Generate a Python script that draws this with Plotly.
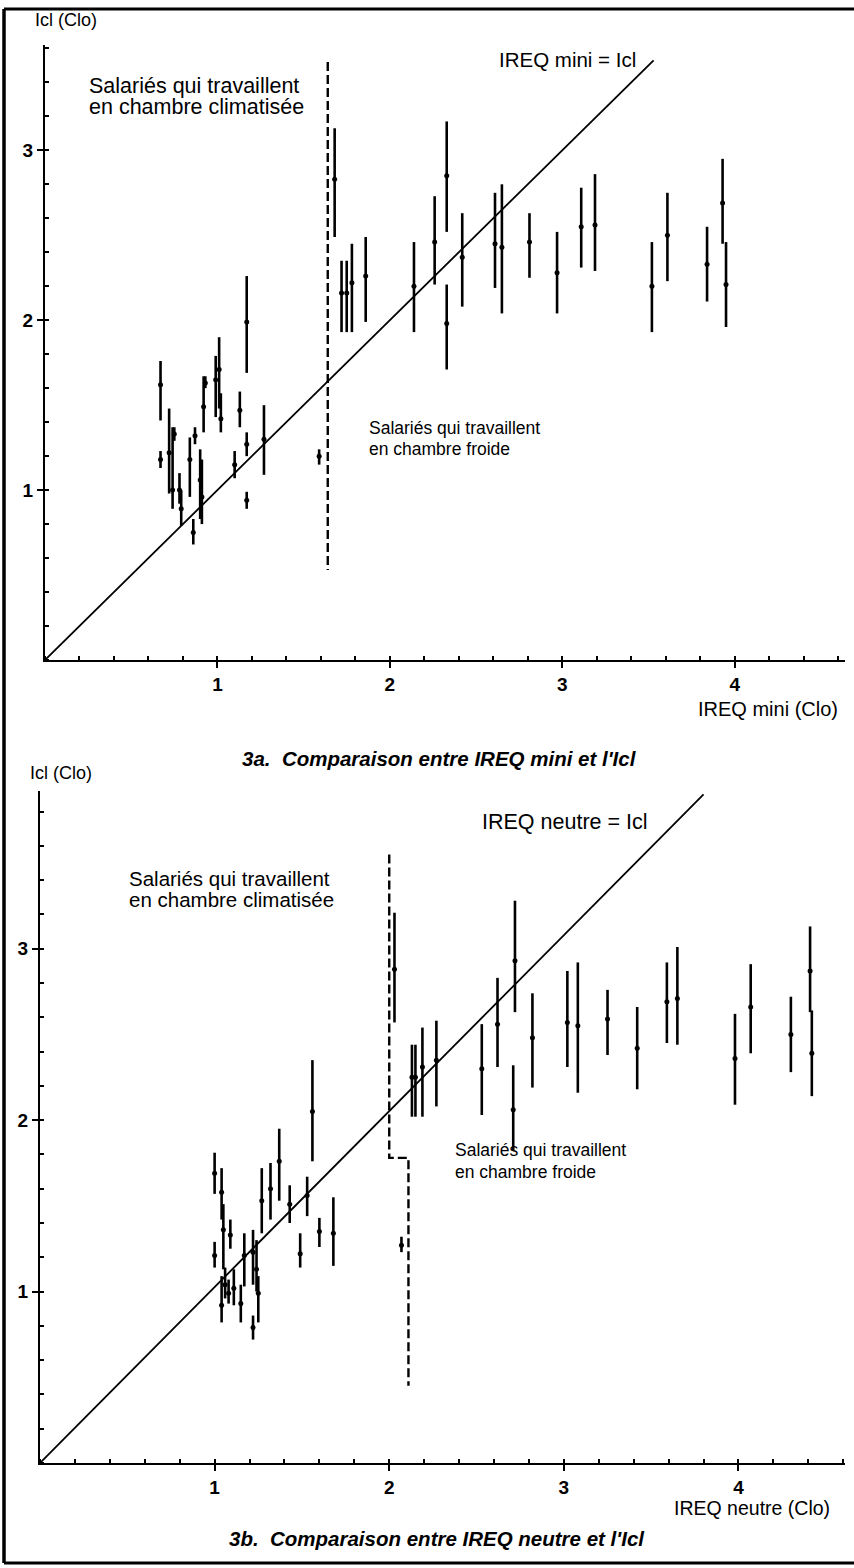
import plotly.graph_objects as go

W, H = 854, 1568

# ---------------- Panel 3a : IREQ mini vs Icl ----------------
top_x = [0.67, 0.67, 0.72, 0.74, 0.75, 0.78, 0.79, 0.84, 0.86, 0.87, 0.90, 0.91,
         0.92, 0.93, 0.99, 1.01, 1.02, 1.10, 1.13, 1.17, 1.17, 1.17, 1.27, 1.59,
         1.68, 1.72, 1.75, 1.78, 1.86, 2.14, 2.26, 2.33, 2.33, 2.42, 2.61, 2.65,
         2.81, 2.97, 3.11, 3.19, 3.52, 3.61, 3.84, 3.93, 3.95]
top_c = [1.62, 1.18, 1.22, 1.00, 1.33, 1.00, 0.89, 1.18, 0.75, 1.32, 1.06, 0.96,
         1.49, 1.63, 1.65, 1.71, 1.42, 1.15, 1.47, 0.94, 1.99, 1.27, 1.30, 1.20,
         2.83, 2.16, 2.16, 2.22, 2.26, 2.20, 2.46, 2.85, 1.98, 2.37, 2.45, 2.43,
         2.46, 2.28, 2.55, 2.56, 2.20, 2.50, 2.33, 2.69, 2.21]
top_lo = [1.41, 1.13, 0.98, 0.89, 1.29, 0.92, 0.79, 0.96, 0.68, 1.27, 0.83, 0.80,
          1.34, 1.60, 1.43, 1.48, 1.34, 1.07, 1.37, 0.89, 1.69, 1.20, 1.09, 1.15,
          2.49, 1.93, 1.93, 1.93, 1.99, 1.93, 2.21, 2.52, 1.71, 2.08, 2.19, 2.04,
          2.25, 2.04, 2.31, 2.29, 1.93, 2.23, 2.11, 2.45, 1.96]
top_hi = [1.76, 1.23, 1.48, 1.37, 1.37, 1.10, 1.00, 1.31, 0.83, 1.37, 1.24, 1.18,
          1.67, 1.67, 1.79, 1.90, 1.57, 1.23, 1.58, 0.99, 2.26, 1.34, 1.50, 1.24,
          3.13, 2.35, 2.35, 2.45, 2.49, 2.46, 2.73, 3.17, 2.21, 2.63, 2.75, 2.80,
          2.63, 2.52, 2.78, 2.86, 2.46, 2.75, 2.55, 2.95, 2.46]
top_line_x = [0, 3.53]
top_line_y = [0, 3.53]
top_div_x = [1.64, 1.64]
top_div_y = [3.52, 0.53]

# ---------------- Panel 3b : IREQ neutre vs Icl ----------------
bot_x = [1.00, 1.00, 1.04, 1.05, 1.04, 1.06, 1.08, 1.09, 1.11, 1.15, 1.17, 1.22,
         1.24, 1.22, 1.25, 1.27, 1.32, 1.37, 1.43, 1.49, 1.53, 1.56, 1.60, 1.68,
         2.07, 2.03, 2.13, 2.15, 2.19, 2.27, 2.53, 2.62, 2.72, 2.71, 2.82, 3.02,
         3.08, 3.25, 3.42, 3.59, 3.65, 3.98, 4.07, 4.30, 4.41, 4.42]
bot_c = [1.69, 1.21, 1.58, 1.36, 0.92, 1.04, 0.99, 1.33, 1.02, 0.93, 1.21, 1.23,
         1.13, 0.79, 0.99, 1.53, 1.60, 1.76, 1.51, 1.22, 1.56, 2.05, 1.35, 1.34,
         1.27, 2.88, 2.25, 2.25, 2.31, 2.35, 2.30, 2.56, 2.93, 2.06, 2.48, 2.57,
         2.55, 2.59, 2.42, 2.69, 2.71, 2.36, 2.66, 2.50, 2.87, 2.39]
bot_lo = [1.57, 1.14, 1.42, 1.13, 0.82, 0.96, 0.93, 1.25, 0.92, 0.82, 1.03, 1.04,
          1.00, 0.72, 0.82, 1.34, 1.42, 1.53, 1.40, 1.14, 1.44, 1.76, 1.26, 1.15,
          1.23, 2.57, 2.02, 2.02, 2.02, 2.08, 2.03, 2.31, 2.63, 1.82, 2.19, 2.31,
          2.16, 2.38, 2.18, 2.45, 2.44, 2.09, 2.39, 2.28, 2.63, 2.14]
bot_hi = [1.81, 1.29, 1.72, 1.51, 1.09, 1.14, 1.07, 1.42, 1.13, 1.04, 1.34, 1.36,
          1.30, 0.86, 1.09, 1.72, 1.75, 1.95, 1.62, 1.34, 1.67, 2.35, 1.43, 1.55,
          1.32, 3.21, 2.44, 2.44, 2.54, 2.58, 2.56, 2.83, 3.28, 2.32, 2.74, 2.87,
          2.92, 2.76, 2.66, 2.92, 3.01, 2.62, 2.91, 2.72, 3.13, 2.64]
bot_line_x = [0, 3.80]
bot_line_y = [0, 3.90]
bot_div_x = [2.00, 2.00, 2.11, 2.11]
bot_div_y = [3.55, 1.78, 1.78, 0.45]

x_ticks = [1, 2, 3, 4]
y_ticks = [1, 2, 3]

FONT = "Liberation Sans, Arial, sans-serif"


def px(v):
    return v / W


def py(v):
    return 1 - v / H


fig = go.Figure()


def add_panel(xs, cs, los, his, lx, ly, dx, dy, xa, ya):
    fig.add_trace(go.Scatter(
        x=xs, y=cs, mode="markers", xaxis=xa, yaxis=ya, showlegend=False,
        marker=dict(color="black", size=5),
        error_y=dict(type="data", symmetric=False,
                     array=[h - c for h, c in zip(his, cs)],
                     arrayminus=[c - l for c, l in zip(cs, los)],
                     thickness=2.6, width=0, color="black")))
    fig.add_trace(go.Scatter(
        x=lx, y=ly, mode="lines", xaxis=xa, yaxis=ya,
        showlegend=False, line=dict(color="black", width=1.8)))
    fig.add_trace(go.Scatter(
        x=dx, y=dy, mode="lines", xaxis=xa, yaxis=ya, showlegend=False,
        line=dict(color="black", width=2.4, dash="9px,4px")))


add_panel(top_x, top_c, top_lo, top_hi, top_line_x, top_line_y,
          top_div_x, top_div_y, "x", "y")
add_panel(bot_x, bot_c, bot_lo, bot_hi, bot_line_x, bot_line_y,
          bot_div_x, bot_div_y, "x2", "y2")

minor = dict(dtick=0.2, tick0=0, ticks="inside", ticklen=4,
             tickwidth=1.5, tickcolor="black")
axis_common = dict(showline=True, linecolor="black", linewidth=2, showgrid=False,
                   zeroline=False, ticks="outside", ticklen=6, tickwidth=2,
                   tickcolor="black", minor=minor,
                   tickfont=dict(family=FONT, size=19, color="black", weight="bold"))

fig.update_layout(
    width=W, height=H, margin=dict(l=0, r=0, t=0, b=0),
    paper_bgcolor="white", plot_bgcolor="white",
    xaxis=dict(domain=[px(45), px(845)], range=[0, 4.64], anchor="y",
               tickvals=x_ticks, **axis_common),
    yaxis=dict(domain=[py(660), py(45)], range=[0, 3.62], anchor="x",
               tickvals=y_ticks, **axis_common),
    xaxis2=dict(domain=[px(40), px(845)], range=[0, 4.61], anchor="y2",
                tickvals=x_ticks, **axis_common),
    yaxis2=dict(domain=[py(1463), py(791)], range=[0, 3.92], anchor="x2",
                tickvals=y_ticks, **axis_common),
)

# frame of the scanned page (left, top, bottom edges)
for x0, y0, x1, y1, w in [(4, 9, 4, 1563, 3.5), (4, 9, 854, 9, 3),
                          (4, 1563, 854, 1563, 3)]:
    fig.add_shape(type="line", xref="paper", yref="paper",
                  x0=px(x0), y0=py(y0), x1=px(x1), y1=py(y1),
                  line=dict(color="black", width=w))


def note(text, x, y, size, xanchor="left", yanchor="middle"):
    fig.add_annotation(xref="paper", yref="paper", x=px(x), y=py(y), text=text,
                       showarrow=False, xanchor=xanchor, yanchor=yanchor,
                       font=dict(family=FONT, size=size, color="black"),
                       align="left")


# Panel 3a texts
note("Icl (Clo)", 33, 20, 18)
note("Salariés qui travaillent", 87, 86, 21.5)
note("en chambre climatisée", 87, 107, 21.5)
note("IREQ mini = Icl", 497, 60, 20.5)
note("Salariés qui travaillent", 367, 428, 17.5)
note("en chambre froide", 367, 449, 17.5)
note("IREQ mini (Clo)", 840, 709, 20, xanchor="right")
note("<b><i>3a.  Comparaison entre IREQ mini et l'Icl</i></b>", 439, 758, 20.5,
     xanchor="center")

# Panel 3b texts
note("Icl (Clo)", 28, 773, 18)
note("Salariés qui travaillent", 127, 878, 20.5)
note("en chambre climatisée", 127, 899, 20.5)
note("IREQ neutre = Icl", 480, 822, 21.5)
note("Salariés qui travaillent", 453, 1150, 17.5)
note("en chambre froide", 453, 1172, 17.5)
note("IREQ neutre (Clo)", 832, 1508, 19.5, xanchor="right")
note("<b><i>3b.  Comparaison entre IREQ neutre et l'Icl</i></b>", 437, 1538, 20.5,
     xanchor="center")

fig.write_html("out.html")
